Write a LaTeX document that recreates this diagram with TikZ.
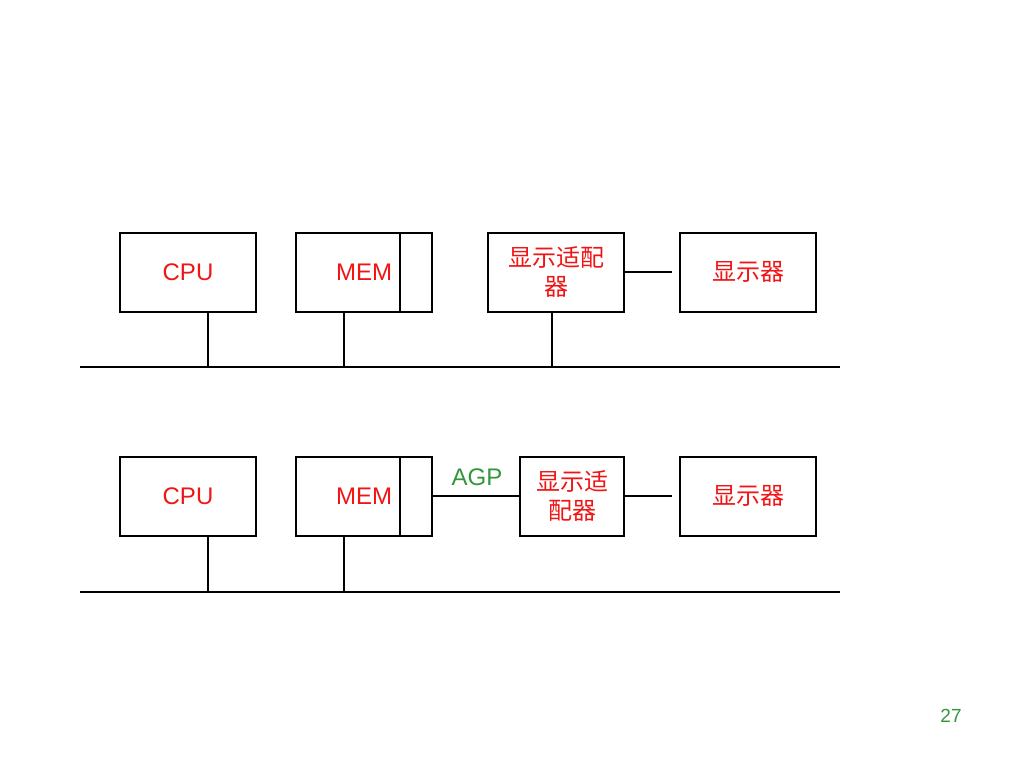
\documentclass[tikz,border=0pt]{standalone}
\usepackage{fontspec}
\setmainfont{Liberation Sans}
\newfontfamily\cjk{Noto Sans CJK SC}
\usepackage{xcolor}
\usetikzlibrary{positioning}

\definecolor{txtred}{RGB}{240,20,20}
\definecolor{txtgreen}{RGB}{50,150,60}

\tikzset{
  unit/.style = {draw, line width=2pt, minimum width=136pt, minimum height=79pt, inner sep=0pt},
  port/.style = {draw, line width=2pt, minimum width=32pt, minimum height=79pt, inner sep=0pt},
  wire/.style = {line width=2pt},
  boxtext/.style = {text=txtred, font=\fontsize{24}{29}\selectfont, align=center, inner sep=0pt},
}

\begin{document}
\begin{tikzpicture}[x=1pt, y=-1pt]
\useasboundingbox (0,0) rectangle (1024,768);

% upper system: adapter on the bus
\node[unit] (cpuA) at (188,272) {};
\node[boxtext] (cpuAtext) at (188,272) {CPU};
\node[unit, minimum width=104pt] (memA) at (348,272) {};
\node[port] (memAport) at (416,272) {};
\node[boxtext] (memAtext) at (364,272) {MEM};
\node[unit, boxtext] (adapterA) at (556,272) {{\cjk 显示适配}\\{\cjk 器}};
\node[unit, boxtext] (displayA) at (748,272) {\cjk 显示器};

\coordinate (busAwest) at (80,367);
\coordinate (busAeast) at (840,367);
\coordinate (gapA) at (672,272);
\draw[wire] (busAwest) -- (busAeast);
\draw[wire] ([xshift=20pt]cpuA.south) -- ([xshift=20pt]cpuA.south |- busAwest);
\draw[wire] ([xshift=-4pt]memA.south) -- ([xshift=-4pt]memA.south |- busAwest);
\draw[wire] ([xshift=-4pt]adapterA.south) -- ([xshift=-4pt]adapterA.south |- busAwest);
\draw[wire] (adapterA.east) -- (gapA);

% lower system: adapter on AGP
\node[unit] (cpuB) at (188,496) {};
\node[boxtext] (cpuBtext) at (188,496) {CPU};
\node[unit, minimum width=104pt] (memB) at (348,496) {};
\node[port] (memBport) at (416,496) {};
\node[boxtext] (memBtext) at (364,496) {MEM};
\node[unit, boxtext, minimum width=104pt] (adapterB) at (572,496) {{\cjk 显示适}\\{\cjk 配器}};
\node[unit, boxtext] (displayB) at (748,496) {\cjk 显示器};

\coordinate (busBwest) at (80,592);
\coordinate (busBeast) at (840,592);
\coordinate (gapB) at (672,496);
\draw[wire] (busBwest) -- (busBeast);
\draw[wire] ([xshift=20pt]cpuB.south) -- ([xshift=20pt]cpuB.south |- busBwest);
\draw[wire] ([xshift=-4pt]memB.south) -- ([xshift=-4pt]memB.south |- busBwest);
\draw[wire] (memBport.east) -- (adapterB.west);
\draw[wire] (adapterB.east) -- (gapB);
\node[boxtext, text=txtgreen] (agp) at (477,477) {AGP};

\node[text=txtgreen, font=\fontsize{19}{22}\selectfont, inner sep=0pt] (page) at (951,716) {27};
\end{tikzpicture}
\end{document}
